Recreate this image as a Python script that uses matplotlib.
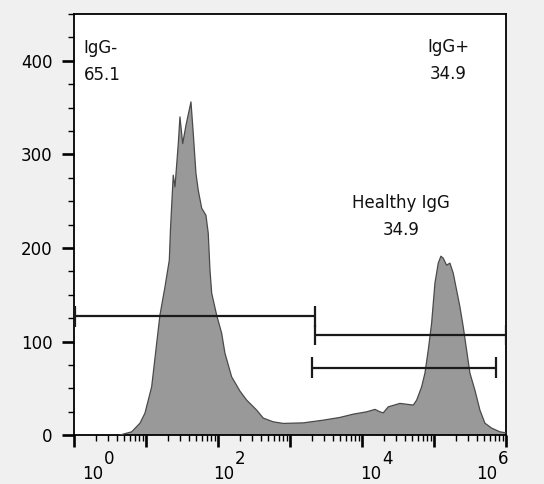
import matplotlib
matplotlib.use("Agg")
import matplotlib.pyplot as plt
import numpy as np
from matplotlib.ticker import FixedLocator, NullFormatter, MultipleLocator

# Histogram outline: log10 fluorescence intensity vs. cell count
log_intensity = [0.639, 0.685, 0.801, 0.917, 0.986, 1.079, 1.149, 1.194, 1.264, 1.324,
                 1.340, 1.361, 1.379, 1.403, 1.449, 1.472, 1.510, 1.556, 1.625, 1.657,
                 1.694, 1.726, 1.774, 1.833, 1.865, 1.889, 1.913, 1.982, 2.051, 2.097,
                 2.190, 2.306, 2.399, 2.538, 2.629, 2.768, 2.907, 3.185, 3.463, 3.694,
                 3.879, 4.065, 4.181, 4.250, 4.296, 4.365, 4.528, 4.713, 4.760, 4.829,
                 4.875, 4.921, 4.968, 5.014, 5.060, 5.097, 5.129, 5.176, 5.222, 5.268,
                 5.315, 5.361, 5.407, 5.454, 5.500, 5.569, 5.639, 5.708, 5.801, 5.917,
                 6.000]
counts = [0.0, 1.1, 3.5, 12.8, 23.5, 51.6, 98.3, 128.2, 158.4, 187.0,
          219.0, 251.1, 277.8, 265.3, 311.6, 340.1, 311.6, 331.2, 356.1, 322.3,
          279.9, 261.8, 242.5, 235.0, 215.8, 176.3, 151.7, 128.2, 109.0, 87.6,
          62.3, 47.0, 37.4, 26.7, 18.2, 14.2, 12.5, 13.1, 16.0, 18.9,
          22.4, 24.9, 27.5, 24.9, 23.8, 30.2, 33.9, 32.1, 37.4, 51.6,
          66.2, 90.8, 119.7, 162.4, 183.8, 191.2, 189.1, 181.6, 183.8, 173.1,
          154.9, 137.1, 115.7, 90.8, 66.2, 48.1, 26.7, 12.8, 7.5, 3.5,
          2.5]

# Gates: intensity range, drawing level (count axis) and label
gate_names = ["IgG-", "IgG+", "Healthy IgG"]
gate_percent = ["65.1", "34.9", "34.9"]
gate_low = [1.03, 2220.0, 2020.0]
gate_high = [2220.0, 1.0e6, 726000.0]
gate_level = [127, 107, 72]

decade_exponents = [0, 1, 2, 3, 4, 5, 6]
labelled_exponents = [0, 2, 4, 6]
y_major = [0, 100, 200, 300, 400]

FONT = "DejaVu Sans"
plt.rcParams["font.family"] = FONT

fig = plt.figure(figsize=(5.44, 4.84), dpi=100, facecolor="#f0f0f0")
ax = fig.add_axes([0.136, 0.101, 0.794, 0.870])
ax.set_facecolor("white")

x = np.power(10.0, log_intensity)
ax.fill_between(x, 0, counts, facecolor="#999999", edgecolor="none", zorder=2)
ax.plot(x, counts, color="#4a4a4a", lw=0.9, zorder=3)

# gate bars with end caps
cap = 11
for lo, hi, lvl in zip(gate_low, gate_high, gate_level):
    ax.hlines(lvl, lo, hi, color="#1a1a1a", lw=1.6, zorder=4)
    ax.vlines([lo, hi], lvl - cap, lvl + cap, color="#1a1a1a", lw=1.6, zorder=4)

ax.set_xscale("log")
ax.set_xlim(1, 1e6)
ax.set_ylim(0, 450)

# gate labels
label_pos = [(0.021, "left"), (0.866, "center"), (0.757, "center")]
label_base = [0.908, 0.910, 0.540]
for (xf, ha), yb, name, pct in zip(label_pos, label_base, gate_names, gate_percent):
    ax.text(xf, yb, name, transform=ax.transAxes, ha=ha, va="baseline",
            fontsize=12, color="#111111")
    ax.text(xf + (0.001 if ha == "left" else 0.0), yb - 0.065, pct,
            transform=ax.transAxes, ha=ha, va="baseline", fontsize=12, color="#111111")

# axes ticks
ax.xaxis.set_major_locator(FixedLocator([10.0 ** e for e in decade_exponents]))
minor = [k * 10.0 ** e for e in decade_exponents[:-1] for k in range(2, 10)]
ax.xaxis.set_minor_locator(FixedLocator(minor))
ax.xaxis.set_major_formatter(NullFormatter())
ax.xaxis.set_minor_formatter(NullFormatter())
ax.yaxis.set_major_locator(FixedLocator(y_major))
ax.yaxis.set_minor_locator(MultipleLocator(25))
ax.set_yticklabels([str(v) for v in y_major])

ax.tick_params(axis="both", which="major", direction="out", length=8.6, width=1.9,
               color="black", labelsize=12, pad=7)
ax.tick_params(axis="both", which="minor", direction="out", length=4.0, width=1.0,
               color="black")

for sp in ax.spines.values():
    sp.set_linewidth(1.3)
    sp.set_color("black")

# decade labels written as "10" with a raised exponent
label_dx = {0: 8, 2: -5, 4: -2, 6: -30}
for e in labelled_exponents:
    dx = label_dx[e]
    ax.annotate("10", xy=(10.0 ** e, 0), xycoords=("data", "axes fraction"),
                xytext=(dx, -44), textcoords="offset pixels",
                ha="left", va="baseline", fontsize=12, annotation_clip=False)
    ax.annotate(str(e), xy=(10.0 ** e, 0), xycoords=("data", "axes fraction"),
                xytext=(dx + 22, -29), textcoords="offset pixels",
                ha="left", va="baseline", fontsize=12, annotation_clip=False)

fig.savefig("out.png", dpi=100, facecolor=fig.get_facecolor())
